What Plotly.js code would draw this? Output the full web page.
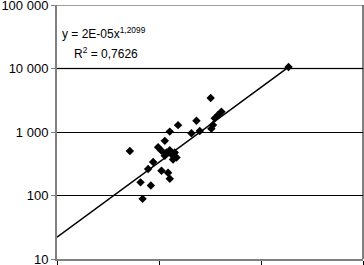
<!DOCTYPE html>
<html>
<head>
<meta charset="utf-8">
<script src="https://cdn.plot.ly/plotly-3.0.1.min.js"></script>
<style>html,body{margin:0;padding:0;background:#fff;}#chart{width:364px;height:265px;}</style>
</head>
<body>
<div id="chart"></div>
<script>
// Scatter data (x on log axis, y on log axis)
var xValues = [518000, 659000, 690000, 782000, 832000, 876000, 980000, 1058000, 1058000, 1140000,
               1227000, 1275000, 1275000, 1538000, 1184000, 1325000, 1140000, 1427000, 1275000, 1484000,
               1374000, 3210000, 2330000, 3790000, 4090000, 3520000, 3380000, 3260000, 2510000, 2080000,
               18620000];
var yValues = [501, 161, 88.5, 262, 144, 337, 575, 505, 245, 725,
               228, 184, 1014, 1283, 475, 447, 422, 475, 516, 396,
               369, 3430, 1500, 1855, 2090, 1640, 1292, 1130, 1033, 955,
               10520];
// Power trendline end points as drawn
var trendX = [100000, 18620000];
var trendY = [22, 10500];
// Axis ticks
var yTickVals = [10, 100, 1000, 10000, 100000];
var yTickText = ["10", "100", "1 000", "10 000", "100 000"];
var xTickVals = [1e5, 1e6, 1e7, 1e8];
var eqText = "y = 2E-05x<sup>1,2099</sup>";
var r2Text = "R<sup>2</sup> = 0,7626";

var traces = [
  {x: trendX, y: trendY, mode: 'lines', type: 'scatter',
   line: {color: '#000', width: 1.5}, hoverinfo: 'skip', showlegend: false},
  {x: xValues, y: yValues, mode: 'markers', type: 'scatter',
   marker: {symbol: 'diamond', size: 6.5, color: '#000'}, showlegend: false}
];

var layout = {
  width: 364, height: 265,
  margin: {l: 57, r: 1, t: 5, b: 6, pad: 0},
  paper_bgcolor: '#fff', plot_bgcolor: '#fff',
  font: {family: 'Liberation Sans, Arial, sans-serif', size: 13, color: '#000'},
  showlegend: false,
  xaxis: {type: 'log', range: [5, 8], tickvals: xTickVals, showticklabels: false,
          ticks: 'outside', ticklen: 6, tickcolor: '#000', tickwidth: 1,
          showgrid: false, zeroline: false, showline: true, linecolor: '#808080', linewidth: 2},
  yaxis: {type: 'log', range: [1, 5], tickvals: yTickVals, ticktext: yTickText,
          ticks: 'outside', ticklen: 4, tickcolor: '#808080', tickwidth: 1,
          ticklabeloverflow: 'allow',
          showgrid: true, gridcolor: '#000', gridwidth: 1,
          zeroline: false, showline: true, linecolor: '#808080', linewidth: 2,
          tickfont: {size: 13, color: '#000'}},
  shapes: [
    {type: 'line', xref: 'paper', yref: 'y', x0: 0, x1: 1, y0: 10000, y1: 10000,
     line: {color: '#808080', width: 1.5}, layer: 'below'},
    {type: 'line', xref: 'paper', yref: 'y', x0: 0, x1: 1, y0: 100000, y1: 100000,
     line: {color: '#808080', width: 1.5}, layer: 'below'},
    {type: 'line', xref: 'paper', yref: 'paper', x0: 1, x1: 1, y0: 0, y1: 1,
     line: {color: '#000', width: 1}, layer: 'above'}
  ],
  annotations: [
    {xref: 'paper', yref: 'paper', x: 0.01, y: 0.89, xanchor: 'left', yanchor: 'middle',
     text: eqText, showarrow: false, font: {size: 12, color: '#000'}},
    {xref: 'paper', yref: 'paper', x: 0.049, y: 0.811, xanchor: 'left', yanchor: 'middle',
     text: r2Text, showarrow: false, font: {size: 12, color: '#000'}}
  ]
};

Plotly.newPlot('chart', traces, layout, {staticPlot: true, displayModeBar: false});
</script>
</body>
</html>
